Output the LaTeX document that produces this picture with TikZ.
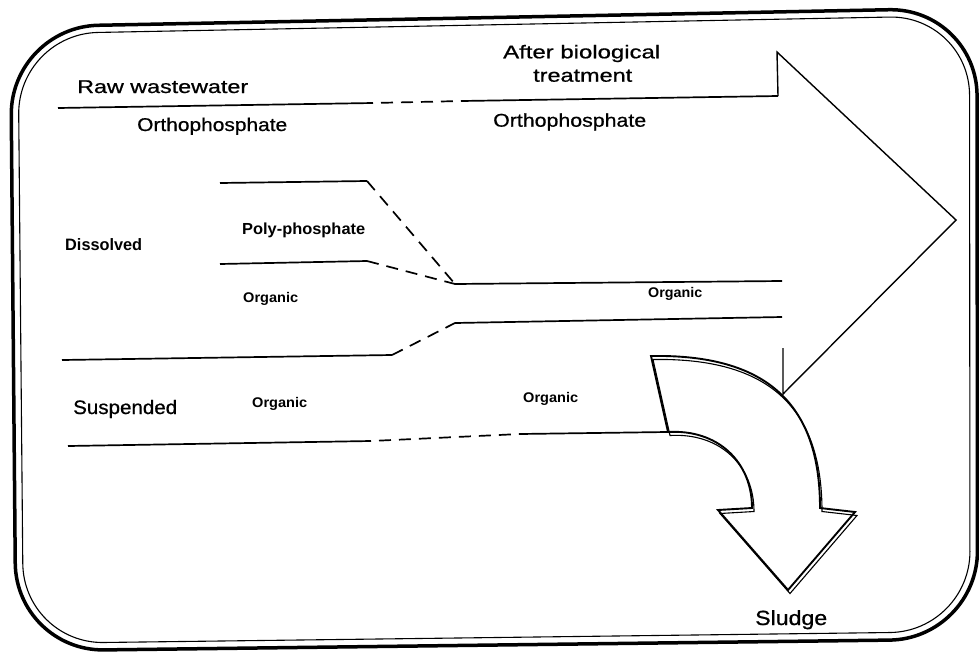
\documentclass[tikz,border=0pt]{standalone}
\usepackage{fontspec}
\setmainfont{Liberation Sans}
\newfontfamily\heavyfont[FakeBold=0.7]{Liberation Sans}
\usepackage{graphicx}
\newcommand{\wtxt}[2]{\resizebox{#1pt}{\height}{#2}}
\newcommand{\setfs}[1]{\fontsize{#1}{#1}\selectfont}
\begin{document}
\begin{tikzpicture}[x=1pt,y=-1pt,
  ln/.style={line width=1.7pt},
  dsh/.style={line width=1.7pt, dash pattern=on 12pt off 8pt},
  arr/.style={line width=1.4pt, line join=miter},
  lbl/.style={inner sep=0pt, anchor=base west},
  sludgearrow/.style={line width=1.9pt, line join=miter},
  sludgeshadow/.style={line width=1.1pt, line join=miter},
]
\useasboundingbox (0,0) rectangle (979,656);
\fill[white] (0,0) rectangle (979,656);

% frame (slightly skewed, as scanned)
\coordinate (fo1) at (10.5,27);
\coordinate (fo2) at (977,8);
\coordinate (fo3) at (977.5,639);
\coordinate (fo4) at (16,651);
\coordinate (fi1) at (18,34);
\coordinate (fi2) at (969.5,15.5);
\coordinate (fi3) at (970,631.5);
\coordinate (fi4) at (23.5,643.5);
\draw[line width=3.5pt, rounded corners=88pt] (fo1) -- (fo2) -- (fo3) -- (fo4) -- cycle;
\draw[line width=1.1pt, rounded corners=80pt] (fi1) -- (fi2) -- (fi3) -- (fi4) -- cycle;

% big arrow
\coordinate (rw0) at (58,108);
\coordinate (rw1) at (373,103);
\coordinate (rw2) at (462,101);
\coordinate (rw3) at (778,96);
\coordinate (ah0) at (777,52);
\coordinate (tip) at (956,220);
\coordinate (ah1) at (783,394);
\coordinate (ah2) at (783,348);
\draw[ln] (rw0) -- (rw1);
\draw[dsh, dash phase=12pt] (rw1) -- (rw2);
\draw[ln] (rw2) -- (rw3);
\draw[arr] (rw3) -- (ah0) -- (tip) -- (ah1) -- (ah2);

% dissolved lines
\coordinate (p0) at (220,183);
\coordinate (p1) at (367,181);
\coordinate (q0) at (220,264);
\coordinate (q1) at (367,261);
\coordinate (m)  at (455,284);
\coordinate (m1) at (782,281);
\coordinate (d0) at (62,360);
\coordinate (d1) at (392,355);
\coordinate (d2) at (455,323);
\coordinate (d3) at (782,317);
\draw[ln] (p0) -- (p1);
\draw[dsh] (p1) -- (m);
\draw[ln] (q0) -- (q1);
\draw[dsh] (q1) -- (m);
\draw[ln] (m) -- (m1);
\draw[ln] (d0) -- (d1);
\draw[dsh] (d1) -- (d2);
\draw[ln] (d2) -- (d3);

% suspended line
\coordinate (s0) at (68,446);
\coordinate (s1) at (371,441);
\coordinate (s2) at (520,434);
\coordinate (s3) at (667,432);
\draw[ln] (s0) -- (s1);
\draw[dsh, dash phase=12pt] (s1) -- (s2);
\draw[ln] (s2) -- (s3);

% curved arrow to sludge
\filldraw[sludgearrow, fill=white] (651,356) .. controls (767,354) and (820,404) .. (820,508)
  -- (855,512) -- (788,590) -- (718,510) -- (752,508)
  .. controls (752,462) and (718,429) .. (668,432) -- cycle;
\draw[sludgeshadow, shift={(2,3.5)}] (651,356) .. controls (767,354) and (820,404) .. (820,508)
  -- (855,512) -- (788,590) -- (718,510) -- (752,508)
  .. controls (752,462) and (718,429) .. (668,432) -- cycle;

% labels
\node[lbl, font=\heavyfont\setfs{18.5}] (raw) at (77,93) {\wtxt{171}{Raw wastewater}};
\node[lbl, font=\heavyfont\setfs{18.5}] (oL) at (137,131) {\wtxt{150}{Orthophosphate}};
\node[lbl, font=\heavyfont\setfs{18.5}] (after) at (503,58.3) {\wtxt{157}{After biological}};
\node[lbl, font=\heavyfont\setfs{18.5}] (treat) at (533,81.7) {\wtxt{99}{treatment}};
\node[lbl, font=\heavyfont\setfs{18.5}] (oR) at (493,126.7) {\wtxt{153}{Orthophosphate}};
\node[lbl, font=\bfseries\setfs{16.5}] (diss) at (65,250) {\wtxt{77}{Dissolved}};
\node[lbl, font=\bfseries\setfs{16}] (poly) at (242,234) {\wtxt{123}{Poly-phosphate}};
\node[lbl, font=\bfseries\setfs{14}] (org1) at (243,302) {\wtxt{55}{Organic}};
\node[lbl, font=\bfseries\setfs{14}] (org2) at (648,297) {\wtxt{54}{Organic}};
\node[lbl, font=\heavyfont\setfs{19.5}] (susp) at (73,414) {\wtxt{104}{Suspended}};
\node[lbl, font=\bfseries\setfs{14}] (org3) at (252,407) {\wtxt{55}{Organic}};
\node[lbl, font=\bfseries\setfs{14}] (org4) at (523,402) {\wtxt{55}{Organic}};
\node[lbl, font=\heavyfont\setfs{20.5}] (sludge) at (755,625) {\wtxt{72}{Sludge}};
\end{tikzpicture}
\end{document}
